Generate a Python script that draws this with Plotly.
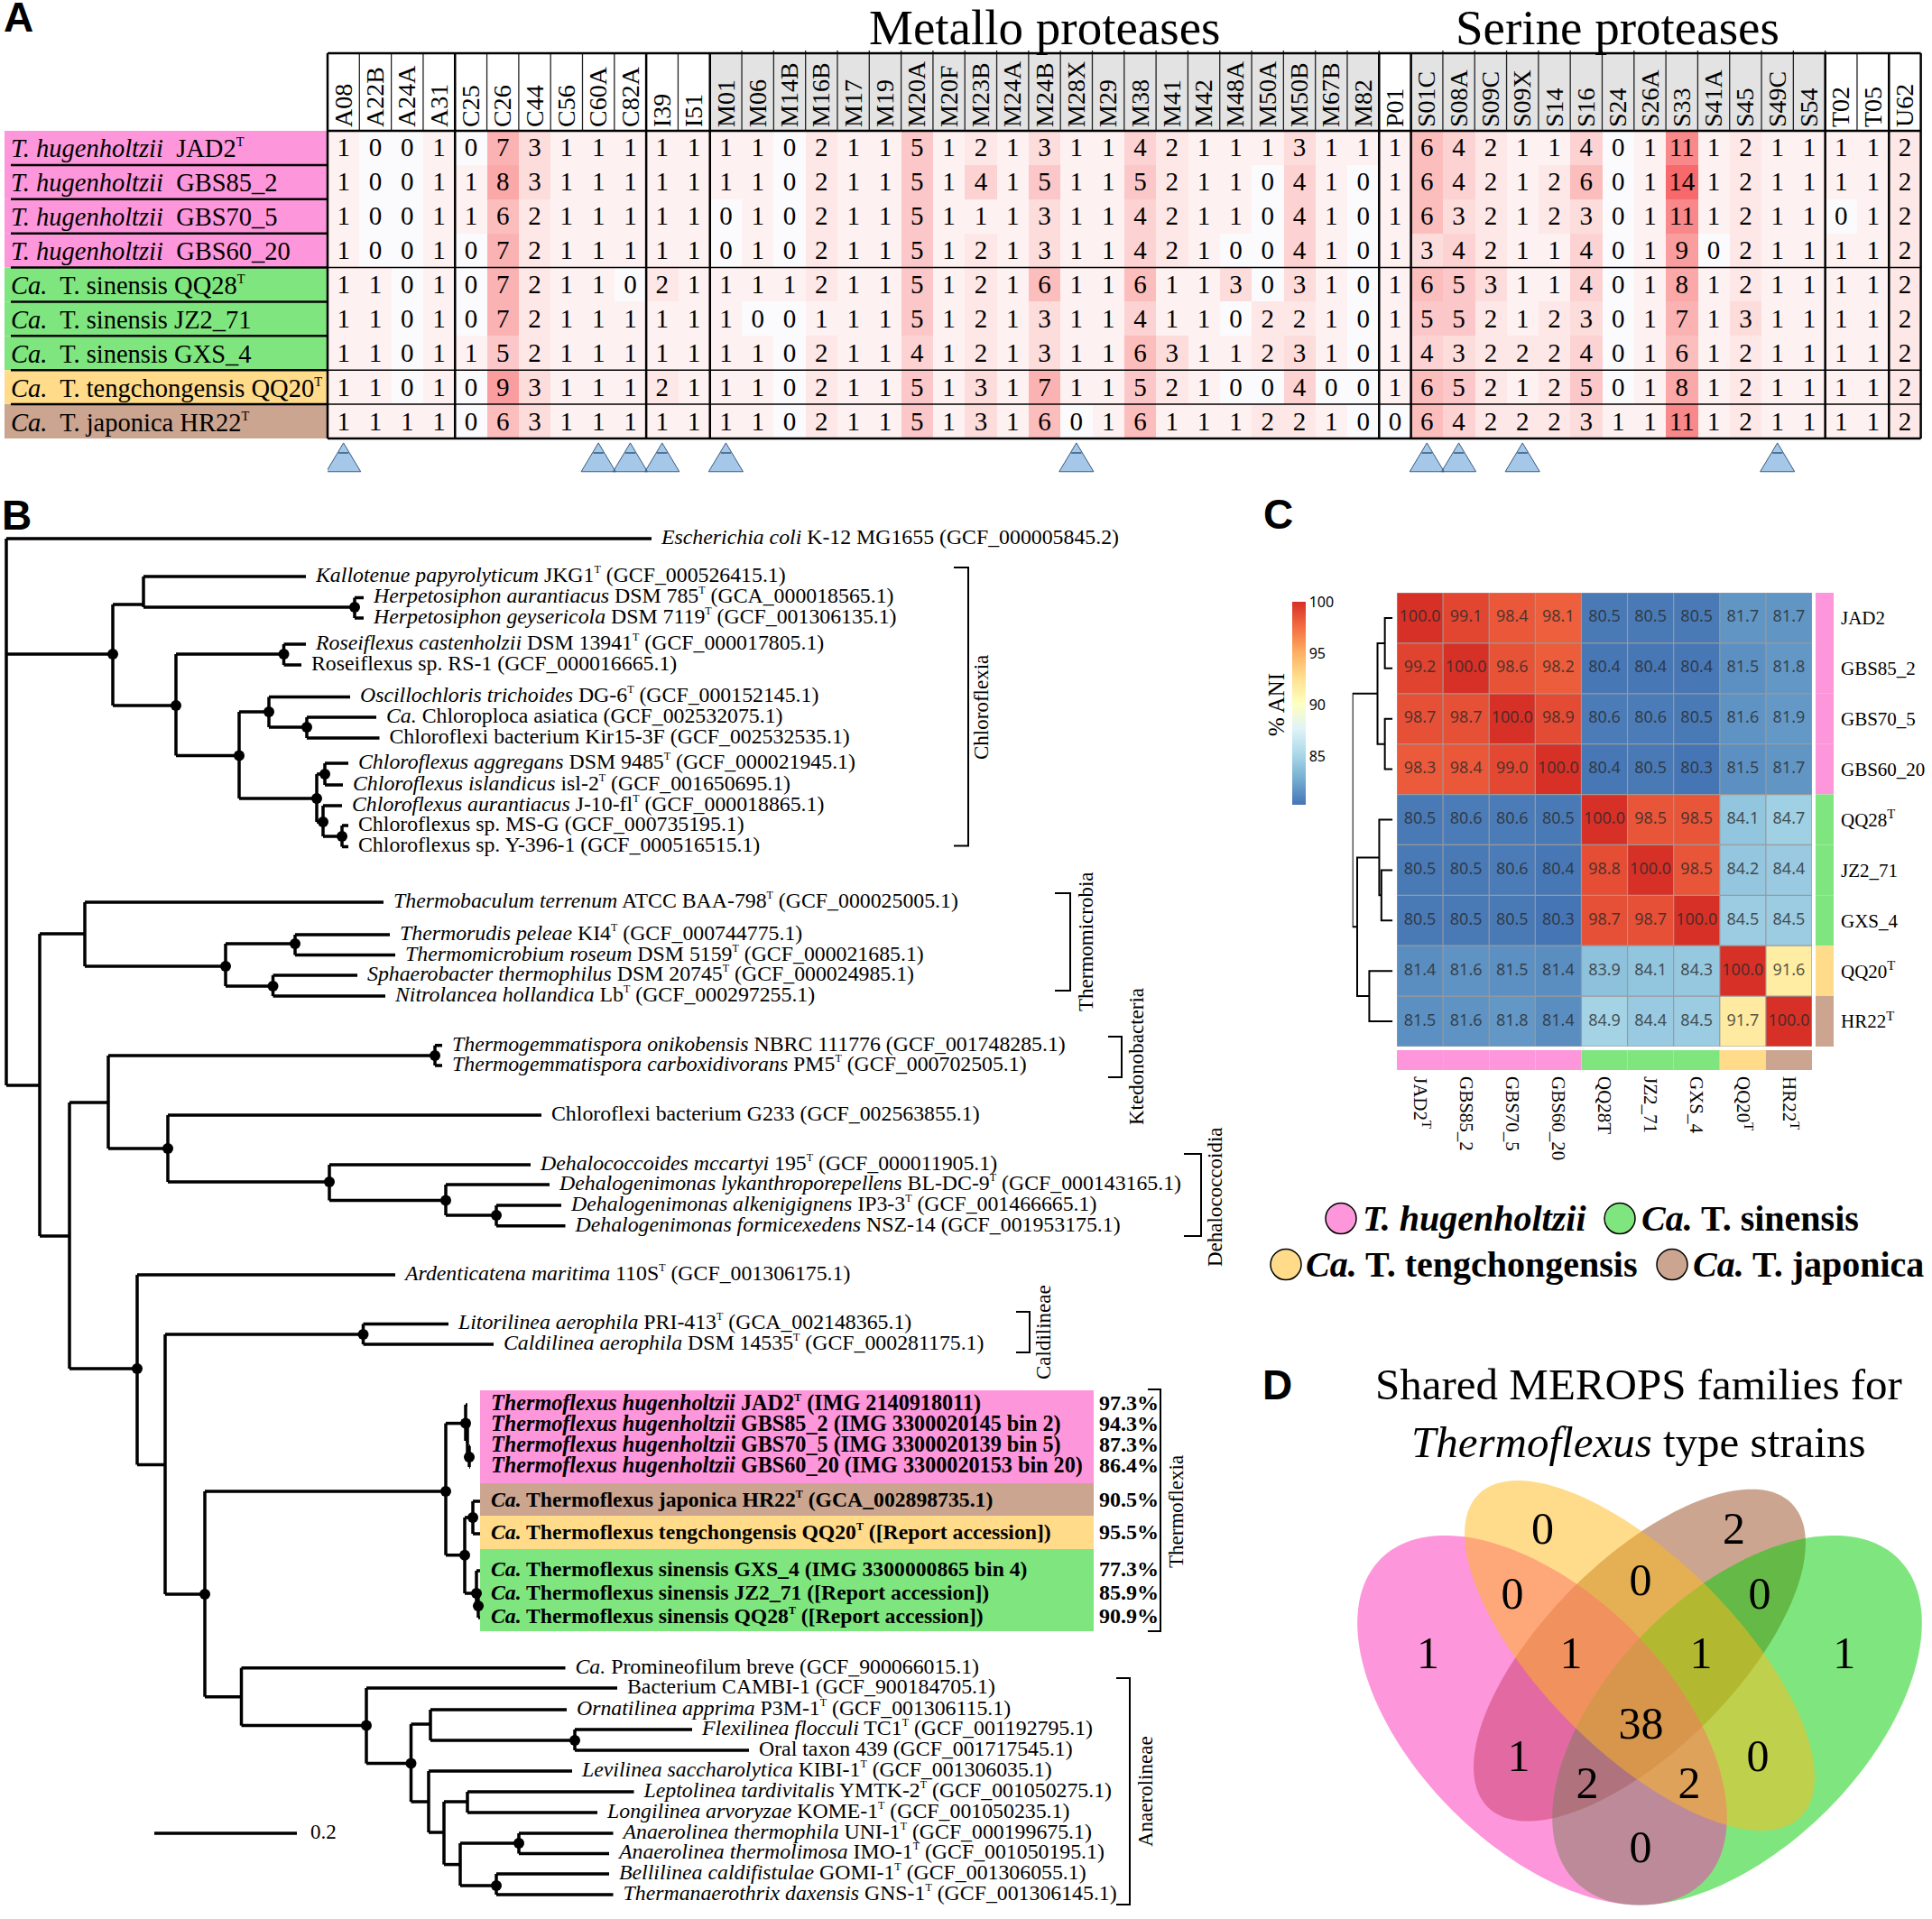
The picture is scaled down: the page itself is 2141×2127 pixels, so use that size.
import math
import plotly.graph_objects as go

W, H = 2141, 2127
SERIF = "Liberation Serif"
SANS = "Liberation Sans"
PINK, GREEN, YELLOW, TAN = "#FD96DA", "#7FE67F", "#FFDB8A", "#CBA58F"

# ---------- Panel A data ----------
families = ["A08","A22B","A24A","A31","C25","C26","C44","C56","C60A","C82A","I39","I51",
            "M01","M06","M14B","M16B","M17","M19","M20A","M20F","M23B","M24A","M24B","M28X","M29",
            "M38","M41","M42","M48A","M50A","M50B","M67B","M82","P01",
            "S01C","S08A","S09C","S09X","S14","S16","S24","S26A","S33","S41A","S45","S49C","S54",
            "T02","T05","U62"]
counts_JAD2     = [1,0,0,1,0,7,3,1,1,1,1,1,1,1,0,2,1,1,5,1,2,1,3,1,1,4,2,1,1,1,3,1,1,1,6,4,2,1,1,4,0,1,11,1,2,1,1,1,1,2]
counts_GBS85_2  = [1,0,0,1,1,8,3,1,1,1,1,1,1,1,0,2,1,1,5,1,4,1,5,1,1,5,2,1,1,0,4,1,0,1,6,4,2,1,2,6,0,1,14,1,2,1,1,1,1,2]
counts_GBS70_5  = [1,0,0,1,1,6,2,1,1,1,1,1,0,1,0,2,1,1,5,1,1,1,3,1,1,4,2,1,1,0,4,1,0,1,6,3,2,1,2,3,0,1,11,1,2,1,1,0,1,2]
counts_GBS60_20 = [1,0,0,1,0,7,2,1,1,1,1,1,0,1,0,2,1,1,5,1,2,1,3,1,1,4,2,1,0,0,4,1,0,1,3,4,2,1,1,4,0,1,9,0,2,1,1,1,1,2]
counts_QQ28     = [1,1,0,1,0,7,2,1,1,0,2,1,1,1,1,2,1,1,5,1,2,1,6,1,1,6,1,1,3,0,3,1,0,1,6,5,3,1,1,4,0,1,8,1,2,1,1,1,1,2]
counts_JZ2_71   = [1,1,0,1,0,7,2,1,1,1,1,1,1,0,0,1,1,1,5,1,2,1,3,1,1,4,1,1,0,2,2,1,0,1,5,5,2,1,2,3,0,1,7,1,3,1,1,1,1,2]
counts_GXS_4    = [1,1,0,1,1,5,2,1,1,1,1,1,1,1,0,2,1,1,4,1,2,1,3,1,1,6,3,1,1,2,3,1,0,1,4,3,2,2,2,4,0,1,6,1,2,1,1,1,1,2]
counts_QQ20     = [1,1,0,1,0,9,3,1,1,1,2,1,1,1,0,2,1,1,5,1,3,1,7,1,1,5,2,1,0,0,4,0,0,1,6,5,2,1,2,5,0,1,8,1,2,1,1,1,1,2]
counts_HR22     = [1,1,1,1,0,6,3,1,1,1,1,1,1,1,0,2,1,1,5,1,3,1,6,0,1,6,1,1,1,2,2,1,0,0,6,4,2,2,2,3,1,1,11,1,2,1,1,1,1,2]
strain_labels_A = ["<i>T. hugenholtzii</i>\u00a0 JAD2<sup>T</sup>",
                   "<i>T. hugenholtzii</i>\u00a0 GBS85_2",
                   "<i>T. hugenholtzii</i>\u00a0 GBS70_5",
                   "<i>T. hugenholtzii</i>\u00a0 GBS60_20",
                   "<i>Ca.</i>\u00a0 T. sinensis QQ28<sup>T</sup>",
                   "<i>Ca.</i>\u00a0 T. sinensis JZ2_71",
                   "<i>Ca.</i>\u00a0 T. sinensis GXS_4",
                   "<i>Ca.</i>\u00a0 T. tengchongensis QQ20<sup>T</sup>",
                   "<i>Ca.</i>\u00a0 T. japonica HR22<sup>T</sup>"]
strain_colors = [PINK]*4 + [GREEN]*3 + [YELLOW, TAN]
group_breaks = ["A31","C82A","I51","M82","P01","S54","T05"]
flagged_families = ["A08","C60A","C82A","I39","M01","M28X","S01C","S08A","S09X","S49C"]

# ---------- Panel B data ----------
leaf_labels = [
 "<i>Escherichia coli</i> K-12 MG1655 (GCF_000005845.2)",
 "<i>Kallotenue papyrolyticum</i> JKG1<sup>T</sup> (GCF_000526415.1)",
 "<i>Herpetosiphon aurantiacus</i> DSM 785<sup>T</sup> (GCA_000018565.1)",
 "<i>Herpetosiphon geysericola</i> DSM 7119<sup>T</sup> (GCF_001306135.1)",
 "<i>Roseiflexus castenholzii</i> DSM 13941<sup>T</sup> (GCF_000017805.1)",
 "Roseiflexus sp. RS-1 (GCF_000016665.1)",
 "<i>Oscillochloris trichoides</i> DG-6<sup>T</sup> (GCF_000152145.1)",
 "<i>Ca.</i> Chloroploca asiatica (GCF_002532075.1)",
 "Chloroflexi bacterium Kir15-3F (GCF_002532535.1)",
 "<i>Chloroflexus aggregans</i> DSM 9485<sup>T</sup> (GCF_000021945.1)",
 "<i>Chloroflexus islandicus</i> isl-2<sup>T</sup> (GCF_001650695.1)",
 "<i>Chloroflexus aurantiacus</i> J-10-fl<sup>T</sup> (GCF_000018865.1)",
 "Chloroflexus sp. MS-G (GCF_000735195.1)",
 "Chloroflexus sp. Y-396-1 (GCF_000516515.1)",
 "<i>Thermobaculum terrenum</i> ATCC BAA-798<sup>T</sup> (GCF_000025005.1)",
 "<i>Thermorudis peleae</i> KI4<sup>T</sup> (GCF_000744775.1)",
 "<i>Thermomicrobium roseum</i> DSM 5159<sup>T</sup> (GCF_000021685.1)",
 "<i>Sphaerobacter thermophilus</i> DSM 20745<sup>T</sup> (GCF_000024985.1)",
 "<i>Nitrolancea hollandica</i> Lb<sup>T</sup> (GCF_000297255.1)",
 "<i>Thermogemmatispora onikobensis</i> NBRC 111776 (GCF_001748285.1)",
 "<i>Thermogemmatispora carboxidivorans</i> PM5<sup>T</sup> (GCF_000702505.1)",
 "Chloroflexi bacterium G233 (GCF_002563855.1)",
 "<i>Dehalococcoides mccartyi</i> 195<sup>T</sup> (GCF_000011905.1)",
 "<i>Dehalogenimonas lykanthroporepellens</i> BL-DC-9<sup>T</sup> (GCF_000143165.1)",
 "<i>Dehalogenimonas alkenigignens</i> IP3-3<sup>T</sup> (GCF_001466665.1)",
 "<i>Dehalogenimonas formicexedens</i> NSZ-14 (GCF_001953175.1)",
 "<i>Ardenticatena maritima</i> 110S<sup>T</sup> (GCF_001306175.1)",
 "<i>Litorilinea aerophila</i> PRI-413<sup>T</sup> (GCA_002148365.1)",
 "<i>Caldilinea aerophila</i> DSM 14535<sup>T</sup> (GCF_000281175.1)",
 "<b><i>Thermoflexus hugenholtzii</i> JAD2<sup>T</sup> (IMG 2140918011)</b>",
 "<b><i>Thermoflexus hugenholtzii</i> GBS85_2 (IMG 3300020145 bin 2)</b>",
 "<b><i>Thermoflexus hugenholtzii</i> GBS70_5 (IMG 3300020139 bin 5)</b>",
 "<b><i>Thermoflexus hugenholtzii</i> GBS60_20 (IMG 3300020153 bin 20)</b>",
 "<b><i>Ca.</i> Thermoflexus japonica HR22<sup>T</sup> (GCA_002898735.1)</b>",
 "<b><i>Ca.</i> Thermoflexus tengchongensis QQ20<sup>T</sup> ([Report accession])</b>",
 "<b><i>Ca.</i> Thermoflexus sinensis GXS_4 (IMG 3300000865 bin 4)</b>",
 "<b><i>Ca.</i> Thermoflexus sinensis JZ2_71 ([Report accession])</b>",
 "<b><i>Ca.</i> Thermoflexus sinensis QQ28<sup>T</sup> ([Report accession])</b>",
 "<i>Ca.</i> Promineofilum breve (GCF_900066015.1)",
 "Bacterium CAMBI-1 (GCF_900184705.1)",
 "<i>Ornatilinea apprima</i> P3M-1<sup>T</sup> (GCF_001306115.1)",
 "<i>Flexilinea flocculi</i> TC1<sup>T</sup> (GCF_001192795.1)",
 "Oral taxon 439 (GCF_001717545.1)",
 "<i>Levilinea saccharolytica</i> KIBI-1<sup>T</sup> (GCF_001306035.1)",
 "<i>Leptolinea tardivitalis</i> YMTK-2<sup>T</sup> (GCF_001050275.1)",
 "<i>Longilinea arvoryzae</i> KOME-1<sup>T</sup> (GCF_001050235.1)",
 "<i>Anaerolinea thermophila</i> UNI-1<sup>T</sup> (GCF_000199675.1)",
 "<i>Anaerolinea thermolimosa</i> IMO-1<sup>T</sup> (GCF_001050195.1)",
 "<i>Bellilinea caldifistulae</i> GOMI-1<sup>T</sup> (GCF_001306055.1)",
 "<i>Thermanaerothrix daxensis</i> GNS-1<sup>T</sup> (GCF_001306145.1)",
]
# tip depth (1 unit = 0.2/160 substitutions per site) and vertical row of each leaf
leaf_depth = [722,339,403,403,339,334,388,417,420.5,386,380,379,386,386,425,432,438,396,427,490,490,600,588,609,622,626.5,
              438,497,547,518,521,521,521,532,532,532,532,532,626.5,684,628,767,830,634,702.5,662,679.5,675,675,679.5]
leaf_row = [597,639,662.5,685,714,737,772.5,795,818,846,870,893,915,938.5,1000,1036,1058.6,1081,1104,1158.7,1181,1236,1291,
            1313,1336,1358.7,1413,1467.5,1490,1557,1580,1603,1626,1664,1700,1741,1767,1793,1848.7,1871,1895,1917,1940,1963,
            1986,2009,2032,2054.5,2077,2100]
highlight_hug = list(range(29, 33))
highlight_ca = list(range(33, 38))
highlight_leaves = highlight_hug + highlight_ca
highlight_pct = ["97.3%","94.3%","87.3%","86.4%","90.5%","95.5%","77.3%","85.9%","90.9%"]

def N(depth, row, kids, dot=True):
    return dict(depth=depth, row=row, kids=kids, dot=dot)

clade_chloroflexia = N(125,725,[
    N(159,670,[1, N(393,673,[2,3])],False),
    N(195,782,[N(314.5,725,[4,5]),
        N(265,837.5,[N(298,789,[6,N(340,806,[7,8])]),
            N(351,885,[N(360,858,[9,10]),N(358,911,[11,N(379,927,[12,13])])])])])])
clade_thermomicrobia = N(94,1035,[14,
    N(250,1071,[N(327,1046,[15,16]),N(302.5,1093,[17,18])])],False)
clade_ktedo_dehalo = N(120,1222,[N(482,1170,[19,20]),
    N(186,1273,[21,N(365,1310,[22,N(494,1330.5,[23,N(550,1347,[24,25])])])])],False)
clade_thermoflexus = N(494,1653,[
    N(516,1577.6,[29,N(518,1597,[30,N(520,1615,[31,32])],False)]),
    N(515,1723.7,[N(524,1682,[33,34]),N(528,1766,[35,N(530,1780,[36,37])])])])
clade_anaerolineae = N(267.5,1880.7,[38,
    N(406,1912.6,[39,N(455.5,1954.6,[
        N(477,1911,[40,N(637,1929,[41,42])],False),
        N(475,1997,[43,N(492,2031,[N(518,1997,[44,45],False),
            N(510,2066.6,[N(575,2043,[46,47]),N(550,2090,[48,49])],False)],False)],False)])])],False)
tree_root = N(7,900,[0,clade_chloroflexia,
    N(44,1203,[clade_thermomicrobia,
        N(77,1370,[clade_ktedo_dehalo,
            N(152,1517,[26,N(183,1623.5,[N(402.5,1479,[27,28]),
                N(227,1767,[clade_thermoflexus,clade_anaerolineae])],False)])],False)],False)],False)

clade_names = ["Chloroflexia","Thermomicrobia","Ktedonobacteria","Dehalococcoidia","Caldilineae","Thermoflexia","Anaerolineae"]
clade_inner = [1057,1169,1228,1312,1126,1272,1237]
clade_outer = [1073,1186,1243,1331,1141,1286,1252]
clade_top   = [629,990,1149,1279,1454,1540,1860]
clade_bot   = [937.5,1098,1194,1370,1499,1808,2111]
clade_lab_x = [1087,1203,1259,1346,1156,1303,1269]
clade_lab_y = [784,1044,1171,1327,1477,1676,1986]
scale_start, scale_len, scale_row, scale_text = 171, 158, 2032, "0.2"

# ---------- Panel C data ----------
ani_rows = ["JAD2","GBS85_2","GBS70_5","GBS60_20","QQ28<sup>T</sup>","JZ2_71","GXS_4","QQ20<sup>T</sup>","HR22<sup>T</sup>"]
ani_cols = ["JAD2<sup>T</sup>","GBS85_2","GBS70_5","GBS60_20","QQ28T","JZ2_71","GXS_4","QQ20<sup>T</sup>","HR22<sup>T</sup>"]
ani_JAD2   = [100.0,99.1,98.4,98.1,80.5,80.5,80.5,81.7,81.7]
ani_GBS85  = [99.2,100.0,98.6,98.2,80.4,80.4,80.4,81.5,81.8]
ani_GBS70  = [98.7,98.7,100.0,98.9,80.6,80.6,80.5,81.6,81.9]
ani_GBS60  = [98.3,98.4,99.0,100.0,80.4,80.5,80.3,81.5,81.7]
ani_QQ28   = [80.5,80.6,80.6,80.5,100.0,98.5,98.5,84.1,84.7]
ani_JZ2    = [80.5,80.5,80.6,80.4,98.8,100.0,98.5,84.2,84.4]
ani_GXS    = [80.5,80.5,80.5,80.3,98.7,98.7,100.0,84.5,84.5]
ani_QQ20   = [81.4,81.6,81.5,81.4,83.9,84.1,84.3,100.0,91.6]
ani_HR22   = [81.5,81.6,81.8,81.4,84.9,84.4,84.5,91.7,100.0]
ani_groups = [PINK]*4 + [GREEN]*3 + [YELLOW, TAN]
dendro = (93,(35,(18,0,1),(18,2,3)),(82,(31,4,(26,5,6)),(54,7,8)))
legend_names = ["<i>T. hugenholtzii</i>","<i>Ca.</i> T. sinensis","<i>Ca.</i> T. tengchongensis","<i>Ca.</i> T. japonica"]
legend_colors = [PINK,GREEN,YELLOW,TAN]

# ---------- Panel D data ----------
venn_counts = [1,0,2,1,0,0,0,1,1,1,38,0,2,2,0]
venn_x = [1582.5,1709.4,1921.6,2043.7,1676,1818,1950,1741,1885,1683,1818.6,1948,1759,1872,1818]
venn_y = [1836,1698.4,1698.4,1836,1770,1755,1770,1836,1836,1950.6,1914,1950.6,1980,1980,2051.7]
# centre x, centre y, long semi-axis, short semi-axis, tilt in degrees, fill (drawn in this order)
venn_tan    = (1817,1834.6,238,105,-45,"rgba(151,75,31,0.5)")
venn_green  = (1925,1906.7,253,141,-45,"rgba(0,205,0,0.5)")
venn_pink   = (1709,1906.7,253,141,45,"rgba(251,45,181,0.5)")
venn_yellow = (1817,1835,252.6,107,45,"rgba(255,185,25,0.5)")

# ---------- helpers ----------
def px(x): return x / W
def py(y): return 1 - y / H
shapes, annots = [], []
def rect(x0,y0,x1,y1,fill,layer="below",line=None):
    shapes.append(dict(type="rect",xref="paper",yref="paper",x0=px(x0),x1=px(x1),y0=py(y0),y1=py(y1),
                       fillcolor=fill,line=dict(width=0) if line is None else line,layer=layer))
def hv(x0,y0,x1,y1,color="black",width=2,layer="above"):
    shapes.append(dict(type="line",xref="paper",yref="paper",x0=px(x0),x1=px(x1),y0=py(y0),y1=py(y1),
                       line=dict(color=color,width=width),layer=layer))
def text(x,y,s,size,family=SERIF,anchor="center",angle=0,color="black"):
    annots.append(dict(xref="paper",yref="paper",x=px(x),y=py(y),text=s,showarrow=False,xanchor=anchor,yanchor="middle",
                       textangle=angle,font=dict(family=family,size=size,color=color),borderpad=0,borderwidth=0))
def small_sup(s):
    return s.replace("<sup>T</sup>",'<sup><span style="font-size:72%">T</span></sup>')

fig = go.Figure()

# ---------- Panel A ----------
AX0, AX1, AY0, AY1, AT = 363, 2128.6, 145, 486, 59
TRI_BOTTOM = 530
counts = [counts_JAD2,counts_GBS85_2,counts_GBS70_5,counts_GBS60_20,counts_QQ28,counts_JZ2_71,counts_GXS_4,counts_QQ20,counts_HR22]
n_fam = len(families)
fig.add_trace(go.Heatmap(z=counts,x=list(range(n_fam)),y=list(range(9)),zmin=0,zmax=14,showscale=False,hoverinfo="skip",
    colorscale=[[0,"#FBFBFE"],[1/14,"#FEF1F1"],[1,"#F8696B"]],xaxis="x",yaxis="y"))
fig.add_trace(go.Scatter(x=[j for r in range(9) for j in range(n_fam)],y=[r+0.06 for r in range(9) for j in range(n_fam)],
    text=[str(v) for row in counts for v in row],mode="text",textposition="middle center",
    textfont=dict(family=SERIF,size=29,color="black"),hoverinfo="skip",xaxis="x",yaxis="y",cliponaxis=False))
tx, ty, bx, by = [], [], [], []
for f in flagged_families:
    i = families.index(f)
    tx += [i-0.54, i, i+0.54, i-0.54, None]
    ty += [9.47, 8.63, 9.47, 9.47, None]
    bx += [i-0.16, i+0.16, None]
    by += [8.92, 8.92, None]
fig.add_trace(go.Scatter(x=tx,y=ty,mode="lines",fill="toself",fillcolor="#A6C8E8",line=dict(color="#39597F",width=1),
    hoverinfo="skip",xaxis="x",yaxis="y6"))
fig.add_trace(go.Scatter(x=bx,y=by,mode="lines",line=dict(color="#4F749C",width=2),
    hoverinfo="skip",xaxis="x",yaxis="y6"))

cw = (AX1-AX0)/n_fam
rh = (AY1-AY0)/9
rect(AX0+12*cw,AT,AX0+33*cw,AY0,"#E3E3E3")
rect(AX0+34*cw,AT,AX0+47*cw,AY0,"#E3E3E3")
for j in range(1,n_fam):
    top = AT-3 if (12<j<=33 or 34<j<=47) else AT
    hv(AX0+j*cw,top,AX0+j*cw,AY0,"#222222",1.3)
for r,(c,lab) in enumerate(zip(strain_colors,strain_labels_A)):
    rect(5,AY0+r*rh,AX0,AY0+(r+1)*rh,c)
    text(12,AY0+(r+0.5)*rh+1,small_sup(lab),28.5,anchor="left")
    if r>0:
        hv(12,AY0+r*rh,AX0,AY0+r*rh,"black",2.5)
for r in (4,7,8):
    hv(AX0,AY0+r*rh,AX1,AY0+r*rh,"black",1.5)
for b in group_breaks:
    x = AX0+(families.index(b)+1)*cw
    hv(x,AT,x,AY1,"black",2.5)
hv(AX0,AT,AX1,AT,"black",2.5); hv(AX0,AY0,AX1,AY0,"black",2.5); hv(AX0,AY1,AX1,AY1,"black",2.5)
hv(AX0,AT,AX0,AY1,"black",2.5); hv(AX1,AT,AX1,AY1,"black",2.5)
text(1157,31,"Metallo proteases",55)
text(1792,31,"Serine proteases",55)

# ---------- Panel B ----------
seg_x, seg_y, dot_x, dot_y = [], [], [], []
def walk(node):
    rows = []
    for k in node["kids"]:
        if isinstance(k,int):
            d, r = leaf_depth[k], leaf_row[k]
        else:
            d, r = k["depth"], k["row"]
            walk(k)
        rows.append(r)
        seg_x.extend([node["depth"],d,None]); seg_y.extend([r,r,None])
    seg_x.extend([node["depth"],node["depth"],None]); seg_y.extend([min(rows),max(rows),None])
    if node["dot"]:
        dot_x.append(node["depth"]); dot_y.append(node["row"])
walk(tree_root)
for col,(a,b) in zip([PINK,TAN,YELLOW,GREEN],[(1541,1644),(1644,1680),(1680,1717),(1717,1808)]):
    rect(532,a,1212,b,col)
fig.add_trace(go.Scatter(x=seg_x,y=seg_y,mode="lines",line=dict(color="black",width=3.5),hoverinfo="skip",xaxis="x4",yaxis="y4",cliponaxis=False))
fig.add_trace(go.Scatter(x=dot_x,y=dot_y,mode="markers",marker=dict(color="black",size=12),hoverinfo="skip",xaxis="x4",yaxis="y4",cliponaxis=False))
lab_x = [(544 if i in highlight_leaves else d+11) for i,d in enumerate(leaf_depth)]
lab_size = [(24.2 if i in highlight_hug else 23.7 if i in highlight_ca else 23.8) for i in range(len(leaf_depth))]
fig.add_trace(go.Scatter(x=lab_x,y=leaf_row,text=[small_sup(s) for s in leaf_labels],mode="text",textposition="middle right",
    textfont=dict(family=SERIF,size=lab_size,color="black"),hoverinfo="skip",xaxis="x4",yaxis="y4",cliponaxis=False))
fig.add_trace(go.Scatter(x=[1218]*9,y=[leaf_row[i] for i in highlight_leaves],text=["<b>%s</b>"%p for p in highlight_pct],
    mode="text",textposition="middle right",textfont=dict(family=SERIF,size=24,color="black"),hoverinfo="skip",xaxis="x4",yaxis="y4",cliponaxis=False))
bk_x, bk_y = [], []
for a,b,t,u in zip(clade_inner,clade_outer,clade_top,clade_bot):
    bk_x += [a,b,b,a,None]; bk_y += [t,t,u,u,None]
fig.add_trace(go.Scatter(x=bk_x,y=bk_y,mode="lines",line=dict(color="black",width=2),hoverinfo="skip",xaxis="x4",yaxis="y4",cliponaxis=False))
for n,x,y in zip(clade_names,clade_lab_x,clade_lab_y):
    text(x,y,n,23,angle=-90)
fig.add_trace(go.Scatter(x=[scale_start,scale_start+scale_len],y=[scale_row]*2,mode="lines",line=dict(color="black",width=3.5),hoverinfo="skip",xaxis="x4",yaxis="y4",cliponaxis=False))
fig.add_trace(go.Scatter(x=[scale_start+scale_len+15],y=[scale_row],text=[scale_text],mode="text",textposition="middle right",
    textfont=dict(family=SERIF,size=23,color="black"),hoverinfo="skip",xaxis="x4",yaxis="y4",cliponaxis=False))

# ---------- Panel C ----------
ani = [ani_JAD2,ani_GBS85,ani_GBS70,ani_GBS60,ani_QQ28,ani_JZ2,ani_GXS,ani_QQ20,ani_HR22]
CX0, CX1, CY0, CY1 = 1548, 2008, 657, 1160
fig.add_trace(go.Heatmap(z=ani,x=list(range(9)),y=list(range(9)),zmin=80.3,zmax=100,hoverinfo="skip",xaxis="x2",yaxis="y2",
    colorscale=[[0,"#4575B4"],[0.125,"#74ADD1"],[0.25,"#ABD9E9"],[0.375,"#E0F3F8"],[0.5,"#FFFFBF"],[0.625,"#FEE090"],[0.75,"#FDAE61"],[0.875,"#F46D43"],[1,"#D73027"]],
    colorbar=dict(thickness=15,len=225,lenmode="pixels",x=px(1432),xanchor="left",y=py(667),yanchor="top",xpad=0,ypad=0,
                  outlinewidth=0,ticks="",tickvals=[85,90,95,100],tickfont=dict(family="Noto Sans",size=16,color="black"))))
fig.add_trace(go.Scatter(x=[j for r in range(9) for j in range(9)],y=[r for r in range(9) for j in range(9)],
    text=["%.1f"%v for row in ani for v in row],mode="text",textposition="middle center",
    textfont=dict(family="Noto Sans",size=18,color="rgba(40,40,40,0.78)"),hoverinfo="skip",xaxis="x2",yaxis="y2"))
for i in range(10):
    shapes.append(dict(type="line",xref="x2",yref="y2",x0=i-0.5,x1=i-0.5,y0=-0.5,y1=8.5,line=dict(color="#9A9A9A",width=1.2),layer="above"))
    shapes.append(dict(type="line",xref="x2",yref="y2",y0=i-0.5,y1=i-0.5,x0=-0.5,x1=8.5,line=dict(color="#9A9A9A",width=1.2),layer="above"))
cc, rr = (CX1-CX0)/9, (CY1-CY0)/9
for i,c in enumerate(ani_groups):
    rect(2012,CY0+i*rr,2032,CY0+(i+1)*rr,c)
    rect(CX0+i*cc,1164,CX0+(i+1)*cc,1186,c)
dx, dy = [], []
def dwalk(n):
    if isinstance(n,int):
        return 0, n
    h,a,b = n
    ha,ra = dwalk(a); hb,rb = dwalk(b)
    dx.extend([ha,h,h,hb,None]); dy.extend([ra,ra,rb,rb,None])
    return h,(ra+rb)/2
dwalk(dendro)
fig.add_trace(go.Scatter(x=dx,y=dy,mode="lines",line=dict(color="black",width=2),hoverinfo="skip",xaxis="x3",yaxis="y2"))
text(1414,781,"% ANI",25,angle=-90)
leg_pos = [(1486,1510,1350.6),(1795,1819,1350.6),(1425,1447,1401.6),(1853,1876,1401.6)]
for (cx,tx0,y),c,n in zip(leg_pos,legend_colors,legend_names):
    shapes.append(dict(type="circle",xref="paper",yref="paper",x0=px(cx-17),x1=px(cx+17),y0=py(y-17),y1=py(y+17),
                       fillcolor=c,line=dict(color="black",width=1.5),layer="above"))
    text(tx0,y,"<b>%s</b>"%n,40,anchor="left")

# ---------- Panel D ----------
text(1816,1534,"Shared MEROPS families for",49)
text(1816,1598,"<i>Thermoflexus</i> type strains",49)
def ellipse(cx,cy,a,b,deg):
    t = math.radians(deg)
    xs, ys = [], []
    for k in range(181):
        p = 2*math.pi*k/180
        u, v = a*math.cos(p), b*math.sin(p)
        xs.append(cx+u*math.cos(t)-v*math.sin(t))
        ys.append(cy+u*math.sin(t)+v*math.cos(t))
    return xs, ys
for e in (venn_tan,venn_green,venn_pink,venn_yellow):
    xs, ys = ellipse(*e[:5])
    fig.add_trace(go.Scatter(x=xs,y=ys,mode="none",fill="toself",fillcolor=e[5],hoverinfo="skip",xaxis="x5",yaxis="y5"))
fig.add_trace(go.Scatter(x=venn_x,y=venn_y,text=[str(v) for v in venn_counts],mode="text",textposition="middle center",
    textfont=dict(family=SERIF,size=50,color="black"),hoverinfo="skip",xaxis="x5",yaxis="y5"))

# ---------- panel letters ----------
for s,x,y in (("A",20,19),("B",18,571),("C",1417,570),("D",1415,1535)):
    text(x,y,"<b>%s</b>"%s,46,family=SANS)

hidden = dict(visible=False,showgrid=False,zeroline=False,fixedrange=True)
fig.update_layout(
    width=W,height=H,margin=dict(l=0,r=0,t=0,b=0),paper_bgcolor="white",plot_bgcolor="rgba(0,0,0,0)",showlegend=False,
    shapes=shapes,annotations=annots,
    xaxis=dict(domain=[px(AX0),px(AX1)],range=[-0.5,n_fam-0.5],side="top",tickmode="array",tickvals=list(range(n_fam)),ticktext=families,
               tickangle=-90,tickfont=dict(family=SERIF,size=28,color="black"),ticks="",showgrid=False,zeroline=False,showline=False,
               ticklabelstandoff=3,anchor="y"),
    yaxis=dict(domain=[py(AY1),py(AY0)],range=[8.5,-0.5],showticklabels=False,ticks="",showgrid=False,zeroline=False,showline=False,anchor="x"),
    yaxis6=dict(hidden,domain=[py(TRI_BOTTOM),py(AY1)],range=[8.5+(TRI_BOTTOM-AY1)/rh,8.5],anchor="x"),
    xaxis2=dict(domain=[px(CX0),px(CX1)],range=[-0.5,8.5],side="bottom",tickmode="array",tickvals=list(range(9)),ticktext=ani_cols,
                tickangle=90,tickfont=dict(family=SERIF,size=21,color="black"),ticks="",showgrid=False,zeroline=False,showline=False,
                ticklabelstandoff=32,anchor="y2"),
    yaxis2=dict(domain=[py(CY1),py(CY0)],range=[8.5,-0.5],side="right",tickmode="array",tickvals=list(range(9)),ticktext=ani_rows,
                tickfont=dict(family=SERIF,size=21,color="black"),ticks="",showgrid=False,zeroline=False,showline=False,
                ticklabelstandoff=31,anchor="x2"),
    xaxis3=dict(hidden,domain=[px(1498.7),px(1543.3)],range=[93,0],anchor="y2"),
    xaxis4=dict(hidden,domain=[0,px(1340)],range=[0,1340],anchor="y4"),
    yaxis4=dict(hidden,domain=[0,py(580)],range=[2127,580],anchor="x4"),
    xaxis5=dict(hidden,domain=[0,1],range=[0,W],anchor="y5"),
    yaxis5=dict(hidden,domain=[0,1],range=[H,0],anchor="x5"),
)
fig.write_html("out.html",config=dict(displayModeBar=False),post_script="document.body.style.margin='0';")
